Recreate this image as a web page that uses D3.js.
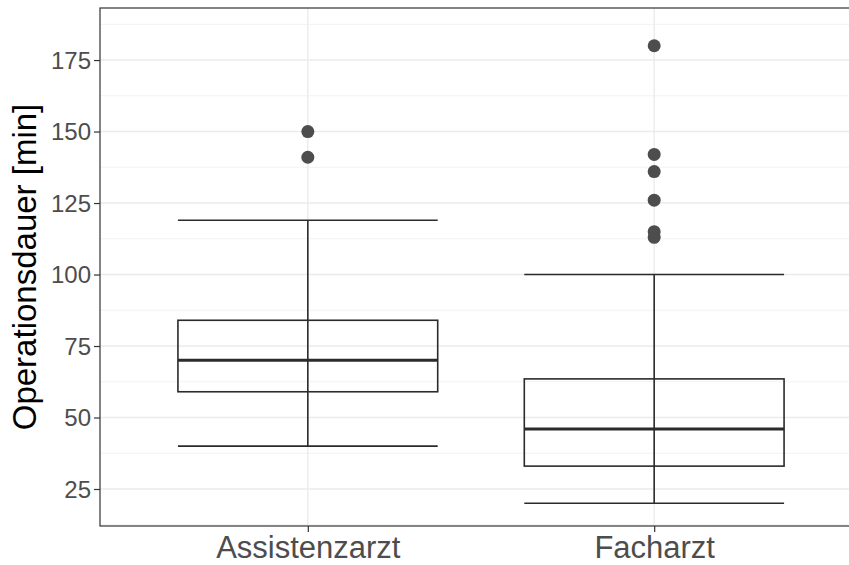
<!DOCTYPE html>
<html>
<head>
<meta charset="utf-8">
<script src="https://cdn.jsdelivr.net/npm/d3@7"></script>
<style>
  body { margin: 0; background: #fff; }
  text { font-family: "Liberation Sans", Arial, sans-serif; }
</style>
</head>
<body>
<div id="chart"></div>
<script>
var width = 849,
    height = 565;

// data
var groups = ["Assistenzarzt", "Facharzt"];
var lowerWhisker = [40, 20];
var q1 = [59, 33];
var median = [70, 46];
var q3 = [84, 63.5];
var upperWhisker = [119, 100];
var outliers = [
  [141, 150],
  [113, 115, 126, 136, 142, 180]
];
var yTicks = [25, 50, 75, 100, 125, 150, 175];
var yMinor = [12.5, 37.5, 62.5, 87.5, 112.5, 137.5, 162.5, 187.5];

// panel edges
var pLeft = 100, pTop = 8, pRight = 862, pBottom = 526;

var svg = d3.select("#chart")
  .append("svg")
  .attr("width", width)
  .attr("height", height);

var y = d3.scaleLinear().domain([12.06, 193.2]).range([pBottom, pTop]);
var x = d3.scaleLinear().domain([0.4, 2.6]).range([pLeft, pRight]);
var boxW = 0.75;

var g = svg.append("g");

// grid
g.selectAll(".minor")
  .data(yMinor.filter(function(d) { return d > 12.06; }))
  .enter()
  .append("line")
  .attr("x1", pLeft).attr("x2", pRight)
  .attr("y1", function(d) { return y(d); })
  .attr("y2", function(d) { return y(d); })
  .attr("stroke", "#f2f2f2")
  .attr("stroke-width", 1);

g.selectAll(".major")
  .data(yTicks)
  .enter()
  .append("line")
  .attr("x1", pLeft).attr("x2", pRight)
  .attr("y1", function(d) { return y(d); })
  .attr("y2", function(d) { return y(d); })
  .attr("stroke", "#ebebeb")
  .attr("stroke-width", 1.4);

g.selectAll(".vgrid")
  .data(groups)
  .enter()
  .append("line")
  .attr("x1", function(d, i) { return x(i + 1); })
  .attr("x2", function(d, i) { return x(i + 1); })
  .attr("y1", pTop).attr("y2", pBottom)
  .attr("stroke", "#ebebeb")
  .attr("stroke-width", 1.4);

// boxes
groups.forEach(function(name, i) {
  var cx = x(i + 1),
      x0 = x(i + 1 - boxW / 2),
      x1 = x(i + 1 + boxW / 2);
  var col = "#2b2b2b";

  // whisker stem
  g.append("line")
    .attr("x1", cx).attr("x2", cx)
    .attr("y1", y(upperWhisker[i])).attr("y2", y(lowerWhisker[i]))
    .attr("stroke", col).attr("stroke-width", 1.6);

  // caps
  [upperWhisker[i], lowerWhisker[i]].forEach(function(v) {
    g.append("line")
      .attr("x1", x0).attr("x2", x1)
      .attr("y1", y(v)).attr("y2", y(v))
      .attr("stroke", col).attr("stroke-width", 1.6);
  });

  g.append("rect")
    .attr("x", x0)
    .attr("y", y(q3[i]))
    .attr("width", x1 - x0)
    .attr("height", y(q1[i]) - y(q3[i]))
    .attr("fill", "none")
    .attr("stroke", col)
    .attr("stroke-width", 1.6);

  g.append("line")
    .attr("x1", x0).attr("x2", x1)
    .attr("y1", y(median[i])).attr("y2", y(median[i]))
    .attr("stroke", col).attr("stroke-width", 3);

  g.selectAll(".out" + i)
    .data(outliers[i])
    .enter()
    .append("circle")
    .attr("cx", cx)
    .attr("cy", function(d) { return y(d); })
    .attr("r", 6.5)
    .attr("fill", "#4d4d4d");
});

// panel border
svg.append("rect")
  .attr("x", pLeft).attr("y", pTop)
  .attr("width", pRight - pLeft).attr("height", pBottom - pTop)
  .attr("fill", "none")
  .attr("stroke", "#333333")
  .attr("stroke-width", 1.2);

// y axis
var yAxis = d3.axisLeft(y).tickValues(yTicks).tickSize(6).tickPadding(3);
var ya = svg.append("g")
  .attr("transform", "translate(" + pLeft + ",0)")
  .call(yAxis);
ya.select(".domain").remove();
ya.selectAll("line").attr("stroke", "#333333").attr("stroke-width", 1.2);
ya.selectAll("text")
  .attr("fill", "#4d4d4d")
  .attr("font-size", "24px")
  .attr("dy", "0.35em");

// x axis
var xAxis = d3.axisBottom(x).tickValues([1, 2])
  .tickFormat(function(d) { return groups[d - 1]; })
  .tickSize(6).tickPadding(3);
var xa = svg.append("g")
  .attr("transform", "translate(0," + pBottom + ")")
  .call(xAxis);
xa.select(".domain").remove();
xa.selectAll("line").attr("stroke", "#333333").attr("stroke-width", 1.2);
xa.selectAll("text")
  .attr("fill", "#4d4d4d")
  .attr("font-size", "31px")
  .attr("dy", "0")
  .attr("y", 32);

// y title
svg.append("text")
  .attr("transform", "translate(36," + ((pTop + pBottom) / 2) + ") rotate(-90)")
  .attr("text-anchor", "middle")
  .attr("font-size", "33px")
  .attr("fill", "#000")
  .text("Operationsdauer [min]");
</script>
</body>
</html>
